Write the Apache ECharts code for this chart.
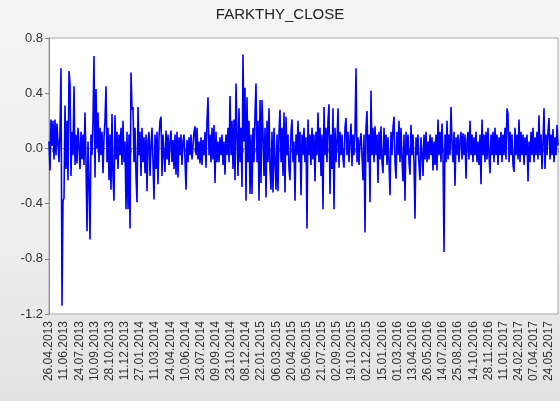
<!DOCTYPE html>
<html>
<head>
<meta charset="utf-8">
<script src="https://cdn.jsdelivr.net/npm/echarts@6/dist/echarts.min.js"></script>
<style>
html,body{margin:0;padding:0;}
body{width:560px;height:401px;background:linear-gradient(to bottom,#f4f4f4 0%,#eeeeee 60%,#e2e2e2 100%);}
#c{width:560px;height:401px;}
</style>
</head>
<body>
<div id="c"></div>
<script>
var title = "FARKTHY_CLOSE";
var tickLabels = ["26.04.2013","11.06.2013","24.07.2013","10.09.2013","28.10.2013","11.12.2013","27.01.2014","11.03.2014","24.04.2014","10.06.2014","23.07.2014","09.09.2014","23.10.2014","08.12.2014","22.01.2015","06.03.2015","20.04.2015","05.06.2015","21.07.2015","02.09.2015","19.10.2015","02.12.2015","15.01.2016","01.03.2016","13.04.2016","26.05.2016","14.07.2016","25.08.2016","14.10.2016","28.11.2016","11.01.2017","24.02.2017","07.04.2017","24.05.2017"];
var yTicks = [-1.2, -0.8, -0.4, 0.0, 0.4, 0.8];
var closeValues = [
0.05,-0.16,0.21,0.02,0.2,-0.08,0.21,-0.05,0.18,0.04,
-0.1,0.12,0.58,-1.14,-0.38,-0.36,0.31,-0.15,0.2,-0.23,
0.56,0.47,-0.2,0.12,-0.05,0.45,-0.12,0.1,-0.11,0.15,
0.02,-0.15,0.12,-0.08,0.1,-0.12,0.26,-0.1,-0.6,0.05,
-0.25,-0.66,0.1,-0.05,0.2,0.67,-0.21,0.43,0.0,0.26,
-0.1,0.15,-0.05,0.12,-0.18,0.08,0.2,0.45,-0.1,0.15,
-0.23,0.1,-0.3,0.25,-0.2,-0.38,0.24,-0.08,0.12,-0.15,
0.1,-0.05,0.15,-0.12,0.2,-0.1,0.05,-0.44,0.12,-0.44,
0.1,-0.58,0.55,0.28,0.3,-0.1,0.15,-0.2,-0.39,0.3,
-0.05,0.12,-0.2,0.15,-0.1,0.08,-0.18,0.1,-0.31,0.05,
0.12,-0.2,0.02,0.15,-0.1,-0.37,0.1,-0.15,0.12,-0.26,
0.08,0.2,0.23,-0.2,0.1,-0.05,-0.17,0.13,-0.08,0.1,
-0.12,0.05,0.13,-0.1,0.06,-0.15,0.1,-0.19,0.12,-0.21,
0.08,-0.05,0.1,-0.12,0.05,0.1,-0.08,-0.3,0.06,-0.1,
0.08,-0.05,0.1,-0.08,0.02,0.12,0.16,-0.05,0.15,-0.08,
0.05,-0.11,0.08,-0.12,0.06,-0.05,0.12,-0.14,0.2,0.37,
-0.05,0.1,-0.1,0.15,-0.08,0.17,-0.25,0.12,-0.1,0.05,
-0.1,0.08,-0.05,0.1,-0.12,0.05,-0.19,0.1,-0.05,0.15,
-0.1,0.38,-0.05,0.2,-0.15,0.21,-0.23,0.47,0.1,-0.2,
0.29,-0.1,0.15,-0.28,0.68,0.05,0.44,-0.38,0.37,-0.1,
0.2,-0.33,0.1,-0.33,0.15,-0.1,0.25,0.47,-0.1,0.2,
-0.38,0.35,-0.25,0.35,0.1,-0.2,0.15,-0.355,0.2,-0.1,
0.29,-0.15,-0.3,0.12,-0.32,0.15,-0.1,-0.3,0.1,-0.31,
0.12,0.28,-0.1,0.15,-0.2,0.26,-0.32,0.23,-0.05,0.1,
-0.15,-0.23,0.12,0.21,-0.1,0.05,-0.38,0.1,-0.05,0.2,
-0.1,0.12,-0.34,0.1,-0.05,0.15,-0.1,0.08,-0.58,0.21,
-0.05,0.1,-0.12,0.15,-0.08,0.1,-0.24,0.12,-0.05,0.26,
-0.1,0.15,-0.2,0.1,-0.44,0.3,-0.05,0.15,-0.1,0.2,
0.32,-0.33,0.1,-0.15,0.29,-0.44,0.15,-0.1,0.05,0.29,
-0.14,0.12,-0.05,0.1,-0.08,-0.14,0.15,0.22,-0.05,0.12,
-0.1,0.05,0.18,-0.13,0.1,-0.05,0.12,0.58,-0.1,0.08,
-0.12,0.05,0.11,-0.05,-0.23,0.1,-0.61,0.15,0.27,-0.1,
0.1,-0.39,0.42,-0.05,0.15,-0.1,0.16,-0.05,0.1,-0.25,
0.12,-0.08,0.16,-0.1,-0.18,0.15,-0.05,0.1,-0.12,0.08,
-0.1,-0.34,0.12,-0.05,0.15,0.23,-0.1,-0.22,0.12,-0.05,
0.2,-0.1,0.15,-0.08,-0.24,0.1,-0.38,0.12,-0.05,0.1,
-0.1,-0.19,0.17,-0.05,0.1,-0.1,-0.51,0.08,-0.05,0.1,
-0.12,-0.23,0.08,-0.05,-0.2,0.1,-0.08,0.12,-0.1,0.05,
-0.08,0.1,-0.05,0.08,-0.16,0.05,-0.12,0.1,-0.16,0.21,
-0.05,0.12,-0.1,0.18,-0.05,-0.75,0.1,-0.1,0.2,-0.08,
0.1,-0.05,0.3,0.05,-0.1,0.12,-0.27,0.08,-0.05,0.1,
-0.1,0.05,0.12,-0.08,0.11,-0.05,0.1,-0.22,0.05,0.12,
-0.08,0.2,-0.05,0.1,-0.1,0.08,-0.05,0.12,-0.1,0.05,
-0.12,0.1,-0.26,0.21,-0.05,0.1,-0.1,0.12,-0.08,0.15,
-0.05,-0.18,0.1,-0.05,0.12,-0.1,0.15,-0.05,0.1,-0.12,
0.08,-0.05,0.12,-0.1,0.1,-0.05,0.15,-0.08,0.29,0.25,
-0.1,0.12,-0.05,0.1,-0.12,-0.17,0.15,-0.05,0.1,-0.08,
0.21,-0.1,0.12,-0.05,0.1,-0.12,0.08,-0.05,0.1,-0.24,
0.05,-0.1,0.12,-0.05,0.15,-0.1,0.08,-0.05,0.12,-0.08,
0.24,-0.05,0.1,-0.15,0.05,0.29,-0.15,0.1,-0.05,0.12,
0.22,-0.08,0.1,-0.05,0.14,-0.1,0.08,-0.05,0.17,0.02
];
var labelStep = 15.15;

var seriesData = closeValues.map(function(v, i){ return [i, v]; });
var chart = echarts.init(document.getElementById('c'), null, {renderer:'canvas'});
chart.setOption({
  backgroundColor: 'transparent',
  animation: false,
  title: {
    text: title, left: 'center', top: 2,
    textStyle: {fontFamily: 'Liberation Sans, Arial, sans-serif', fontSize: 15, fontWeight: 'normal', color: '#222'}
  },
  grid: {left: 49, right: 2, top: 38, bottom: 87, show: true, backgroundColor: '#ffffff', borderColor: '#a8a8a8', borderWidth: 1},
  xAxis: {
    type: 'value', min: 0, max: closeValues.length - 1, interval: labelStep,
    axisLine: {show: true, lineStyle: {color: '#909090'}},
    axisTick: {show: true, length: 4, lineStyle: {color: '#808080'}},
    minorTick: {show: true, splitNumber: 5, length: 4, lineStyle: {color: '#808080'}},
    splitLine: {show: false},
    axisLabel: {
      rotate: 90, margin: 7, showMaxLabel: false,
      fontFamily: 'Liberation Sans, Arial, sans-serif', fontSize: 12, color: '#333',
      formatter: function(v){ var k = Math.round(v / labelStep); return tickLabels[k] || ''; }
    }
  },
  yAxis: {
    type: 'value', min: yTicks[0], max: yTicks[yTicks.length-1], interval: 0.4,
    axisLine: {show: true, lineStyle: {color: '#909090'}},
    axisTick: {show: true, length: 4, lineStyle: {color: '#808080'}},
    splitLine: {show: false},
    axisLabel: {
      margin: 6, fontFamily: 'Liberation Sans, Arial, sans-serif', fontSize: 13, color: '#333',
      formatter: function(v){ return (Math.round(v*10)/10).toFixed(1); }
    }
  },
  series: [{
    type: 'line', data: seriesData, showSymbol: false, symbol: 'none',
    lineStyle: {color: '#0000ff', width: 1.6}, itemStyle: {color: '#0000ff'},
    sampling: null
  }]
});
</script>
</body>
</html>
